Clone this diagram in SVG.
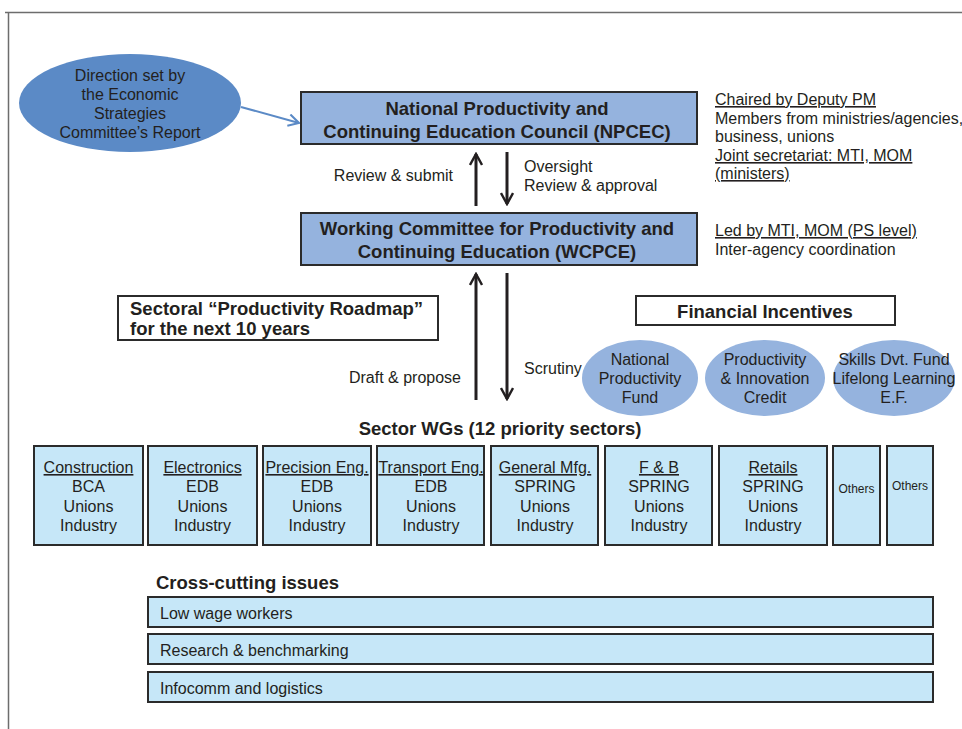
<svg xmlns="http://www.w3.org/2000/svg" width="962" height="729" viewBox="0 0 962 729">
<defs>
<style>
text{font-family:"Liberation Sans",Arial,sans-serif;fill:#231f20}
.b{font-weight:bold}
.t15{font-size:16px}
.t18{font-size:18.5px}
.c{text-anchor:middle}
.u{text-decoration:underline}
.main{fill:#95b3de;stroke:#2b2b2b;stroke-width:2}
.sec{fill:#c6e7f8;stroke:#2b2b2b;stroke-width:2}
.wbox{fill:#fff;stroke:#2b2b2b;stroke-width:2}
.fin{fill:#95b3de}
.arr{stroke:#231f20;stroke-width:3;fill:none}
</style>
<marker id="ah" viewBox="0 0 14 14" refX="12" refY="7" markerWidth="14" markerHeight="14" markerUnits="userSpaceOnUse" orient="auto">
<path d="M1,1 L12,7 L1,13" fill="none" stroke="#231f20" stroke-width="2.4"/>
</marker>
<marker id="ahb" viewBox="0 0 12 12" refX="10" refY="6" markerWidth="14" markerHeight="14" markerUnits="userSpaceOnUse" orient="auto">
<path d="M1,1 L10,6 L1,11" fill="none" stroke="#5b8ac6" stroke-width="1.8"/>
</marker>
</defs>
<rect width="962" height="729" fill="#fff"/>
<path d="M5,12.5 H962 M8.5,12.5 V729" stroke="#6d6d6d" stroke-width="1.5" fill="none"/>

<g id="connectors">
<line x1="241" y1="107" x2="299" y2="123" stroke="#5b8ac6" stroke-width="2" marker-end="url(#ahb)"/>
<line class="arr" x1="476" y1="206" x2="476" y2="154" marker-end="url(#ah)"/>
<line class="arr" x1="507" y1="152" x2="507" y2="204" marker-end="url(#ah)"/>
<line class="arr" x1="476" y1="400" x2="476" y2="274" marker-end="url(#ah)"/>
<line class="arr" x1="507" y1="273" x2="507" y2="399" marker-end="url(#ah)"/>
<text class="t15" x="453" y="181" text-anchor="end">Review &amp; submit</text>
<text class="t15" x="524" y="172">Oversight</text>
<text class="t15" x="524" y="191">Review &amp; approval</text>
<text class="t15" x="461" y="383" text-anchor="end">Draft &amp; propose</text>
<text class="t15" x="524" y="374">Scrutiny</text>
</g>

<g id="direction">
<ellipse cx="130" cy="103" rx="111" ry="49" fill="#5b8ac6"/>
<text class="t15 c" x="130" y="81">Direction set by</text>
<text class="t15 c" x="130" y="100">the Economic</text>
<text class="t15 c" x="130" y="119">Strategies</text>
<text class="t15 c" x="130" y="138">Committee’s Report</text>
</g>

<g id="npcec">
<rect class="main" x="301" y="92" width="396" height="52"/>
<text class="b t18 c" x="497" y="115">National Productivity and</text>
<text class="b t18 c" x="497" y="138">Continuing Education Council (NPCEC)</text>
</g>

<g id="npcec-notes">
<text class="t15 u" x="715" y="105">Chaired by Deputy PM</text>
<text class="t15" x="715" y="124">Members from ministries/agencies,</text>
<text class="t15" x="715" y="142">business, unions</text>
<text class="t15 u" x="715" y="161">Joint secretariat: MTI, MOM</text>
<text class="t15 u" x="715" y="179">(ministers)</text>
</g>

<g id="wcpce">
<rect class="main" x="301" y="213" width="396" height="52"/>
<text class="b t18 c" x="497" y="235">Working Committee for Productivity and</text>
<text class="b t18 c" x="497" y="258">Continuing Education (WCPCE)</text>
</g>

<g id="wcpce-notes">
<text class="t15 u" x="715" y="236">Led by MTI, MOM (PS level)</text>
<text class="t15" x="715" y="255">Inter-agency coordination</text>
</g>

<g id="roadmap">
<rect class="wbox" x="118" y="296" width="320" height="44"/>
<text class="b t18" x="130" y="315">Sectoral “Productivity Roadmap”</text>
<text class="b t18" x="130" y="335">for the next 10 years</text>
</g>

<g id="financial">
<rect class="wbox" x="636" y="296" width="259" height="29"/>
<text class="b t18 c" x="765" y="318">Financial Incentives</text>
</g>

<g id="npf">
<ellipse class="fin" cx="640" cy="378" rx="58" ry="38"/>
<text class="t15 c" x="640" y="365">National</text>
<text class="t15 c" x="640" y="384">Productivity</text>
<text class="t15 c" x="640" y="403">Fund</text>
</g>
<g id="pic">
<ellipse class="fin" cx="765" cy="378" rx="60" ry="38"/>
<text class="t15 c" x="765" y="365">Productivity</text>
<text class="t15 c" x="765" y="384">&amp; Innovation</text>
<text class="t15 c" x="765" y="403">Credit</text>
</g>
<g id="sdf">
<ellipse class="fin" cx="894" cy="378" rx="61" ry="38"/>
<text class="t15 c" x="894" y="365">Skills Dvt. Fund</text>
<text class="t15 c" x="894" y="384">Lifelong Learning</text>
<text class="t15 c" x="894" y="403">E.F.</text>
</g>

<g id="sector-title">
<text class="b t18 c" x="500" y="435">Sector WGs (12 priority sectors)</text>
</g>

<g id="construction">
<rect class="sec" x="34" y="446" width="109" height="99"/>
<text class="t15 c u" x="88.5" y="473">Construction</text>
<text class="t15 c" x="88.5" y="492">BCA</text>
<text class="t15 c" x="88.5" y="512">Unions</text>
<text class="t15 c" x="88.5" y="531">Industry</text>
</g>
<g id="electronics">
<rect class="sec" x="148" y="446" width="109" height="99"/>
<text class="t15 c u" x="202.5" y="473">Electronics</text>
<text class="t15 c" x="202.5" y="492">EDB</text>
<text class="t15 c" x="202.5" y="512">Unions</text>
<text class="t15 c" x="202.5" y="531">Industry</text>
</g>
<g id="precision">
<rect class="sec" x="263" y="446" width="108" height="99"/>
<text class="t15 c u" x="317" y="473">Precision Eng.</text>
<text class="t15 c" x="317" y="492">EDB</text>
<text class="t15 c" x="317" y="512">Unions</text>
<text class="t15 c" x="317" y="531">Industry</text>
</g>
<g id="transport">
<rect class="sec" x="377" y="446" width="107" height="99"/>
<text class="t15 c u" x="431" y="473">Transport Eng.</text>
<text class="t15 c" x="431" y="492">EDB</text>
<text class="t15 c" x="431" y="512">Unions</text>
<text class="t15 c" x="431" y="531">Industry</text>
</g>
<g id="general">
<rect class="sec" x="491" y="446" width="107" height="99"/>
<text class="t15 c u" x="545" y="473">General Mfg.</text>
<text class="t15 c" x="545" y="492">SPRING</text>
<text class="t15 c" x="545" y="512">Unions</text>
<text class="t15 c" x="545" y="531">Industry</text>
</g>
<g id="fnb">
<rect class="sec" x="605" y="446" width="107" height="99"/>
<text class="t15 c u" x="659" y="473">F &amp; B</text>
<text class="t15 c" x="659" y="492">SPRING</text>
<text class="t15 c" x="659" y="512">Unions</text>
<text class="t15 c" x="659" y="531">Industry</text>
</g>
<g id="retails">
<rect class="sec" x="719" y="446" width="108" height="99"/>
<text class="t15 c u" x="773" y="473">Retails</text>
<text class="t15 c" x="773" y="492">SPRING</text>
<text class="t15 c" x="773" y="512">Unions</text>
<text class="t15 c" x="773" y="531">Industry</text>
</g>
<g id="others1">
<rect class="sec" x="833" y="446" width="47" height="99"/>
<text class="c" style="font-size:12px" x="856.5" y="493">Others</text>
</g>
<g id="others2">
<rect class="sec" x="887" y="446" width="46" height="99"/>
<text class="c" style="font-size:12px" x="910" y="490">Others</text>
</g>

<g id="cross-title">
<text class="b t18" x="156" y="589">Cross-cutting issues</text>
</g>
<g id="low-wage">
<rect class="sec" x="148" y="597" width="785" height="30"/>
<text class="t15" x="160" y="619">Low wage workers</text>
</g>
<g id="research">
<rect class="sec" x="148" y="634" width="785" height="30"/>
<text class="t15" x="160" y="656">Research &amp; benchmarking</text>
</g>
<g id="infocomm">
<rect class="sec" x="148" y="672" width="785" height="30"/>
<text class="t15" x="160" y="694">Infocomm and logistics</text>
</g>
</svg>
